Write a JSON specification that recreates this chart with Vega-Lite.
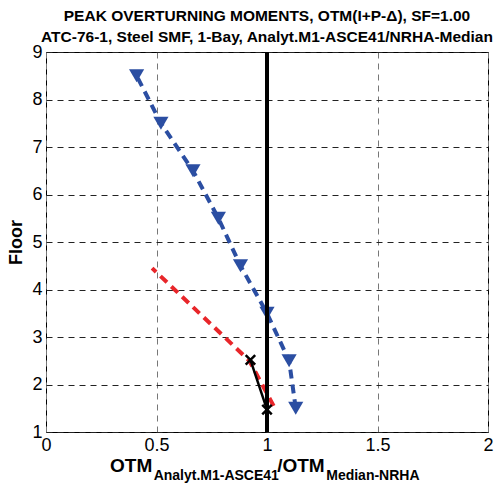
{
  "$schema": "https://vega.github.io/schema/vega-lite/v6.json",
  "width": 442,
  "height": 380,
  "autosize": {"type": "none"},
  "padding": {"left": 46, "top": 52, "right": 15, "bottom": 55},
  "background": "white",
  "title": {
    "text": ["PEAK OVERTURNING MOMENTS, OTM(I+P-Δ), SF=1.00", "ATC-76-1, Steel SMF, 1-Bay, Analyt.M1-ASCE41/NRHA-Median"],
    "font": "Liberation Sans",
    "fontSize": 15.5,
    "fontWeight": "bold",
    "color": "black",
    "anchor": "middle",
    "offset": -2,
    "lineHeight": 21
  },
  "config": {
    "view": {"stroke": "black", "strokeWidth": 1},
    "font": "Liberation Sans",
    "axis": {
      "labelFont": "Liberation Sans",
      "labelFontSize": 18,
      "labelColor": "black",
      "domain": false,
      "ticks": false,
      "grid": true,
      "gridDash": [6, 5],
      "gridWidth": 1,
      "gridOpacity": 1,
      "titleFont": "Liberation Sans",
      "titleColor": "black"
    }
  },
  "datasets": {
    "blue": [
      {"ratio": 0.41, "floor": 8.5},
      {"ratio": 0.52, "floor": 7.5},
      {"ratio": 0.665, "floor": 6.5},
      {"ratio": 0.78, "floor": 5.5},
      {"ratio": 0.88, "floor": 4.5},
      {"ratio": 1.0, "floor": 3.5},
      {"ratio": 1.1, "floor": 2.5},
      {"ratio": 1.13, "floor": 1.5}
    ],
    "red": [
      {"ratio": 0.48, "floor": 4.45},
      {"ratio": 0.92, "floor": 2.5},
      {"ratio": 1.03, "floor": 1.55}
    ],
    "black": [
      {"ratio": 0.925, "floor": 2.52},
      {"ratio": 1.0, "floor": 1.47}
    ],
    "xtitle": [
      {"part": "OTM", "kind": "main", "pos": 0.29},
      {"part": "Analyt.M1-ASCE41", "kind": "sub", "pos": 0.487},
      {"part": "/OTM", "kind": "main", "pos": 1.046},
      {"part": "Median-NRHA", "kind": "sub", "pos": 1.268}
    ]
  },
  "layer": [
    {
      "data": {"name": "blue"},
      "mark": {"type": "line", "color": "#2B4EA2", "strokeWidth": 4, "strokeDash": [9, 6], "strokeCap": "butt"},
      "encoding": {
        "x": {
          "field": "ratio", "type": "quantitative",
          "scale": {"domain": [0, 2], "nice": false, "zero": false},
          "axis": {"values": [0, 0.5, 1, 1.5, 2], "format": "~g", "title": null, "labelPadding": 4, "labelFlush": false, "gridColor": "#777"}
        },
        "y": {
          "field": "floor", "type": "quantitative",
          "scale": {"domain": [1, 9], "nice": false, "zero": false},
          "axis": {"values": [1, 2, 3, 4, 5, 6, 7, 8, 9], "title": "Floor", "titleFontSize": 18, "titleFontWeight": "bold", "titlePadding": 6, "labelPadding": 4, "labelFlush": false, "gridColor": "#222"}
        },
        "order": {"field": "floor"}
      }
    },
    {
      "data": {"name": "blue"},
      "mark": {"type": "point", "shape": "triangle-down", "filled": true, "color": "#2B4EA2", "size": 230, "opacity": 1},
      "encoding": {
        "x": {"field": "ratio", "type": "quantitative"},
        "y": {"field": "floor", "type": "quantitative"}
      }
    },
    {
      "data": {"name": "red"},
      "mark": {"type": "line", "color": "#E8262A", "strokeWidth": 4, "strokeDash": [9, 6], "strokeCap": "butt"},
      "encoding": {
        "x": {"field": "ratio", "type": "quantitative"},
        "y": {"field": "floor", "type": "quantitative"},
        "order": {"field": "floor"}
      }
    },
    {
      "data": {"name": "black"},
      "mark": {"type": "line", "color": "black", "strokeWidth": 2.5},
      "encoding": {
        "x": {"field": "ratio", "type": "quantitative"},
        "y": {"field": "floor", "type": "quantitative"},
        "order": {"field": "floor"}
      }
    },
    {
      "data": {"name": "black"},
      "mark": {"type": "point", "shape": "M-1,-1L1,1M-1,1L1,-1", "filled": false, "color": "black", "strokeWidth": 2.5, "size": 90, "opacity": 1},
      "encoding": {
        "x": {"field": "ratio", "type": "quantitative"},
        "y": {"field": "floor", "type": "quantitative"}
      }
    },
    {
      "data": {"values": [{}]},
      "mark": {"type": "rule", "color": "black", "strokeWidth": 4},
      "encoding": {"x": {"datum": 1}}
    },
    {
      "data": {"name": "xtitle"},
      "transform": [{"filter": "datum.kind === 'main'"}],
      "mark": {"type": "text", "font": "Liberation Sans", "fontWeight": "bold", "fontSize": 19, "align": "left", "baseline": "alphabetic", "color": "black"},
      "encoding": {"x": {"field": "pos", "type": "quantitative"}, "y": {"datum": 0.16}, "text": {"field": "part"}}
    },
    {
      "data": {"name": "xtitle"},
      "transform": [{"filter": "datum.kind === 'sub'"}],
      "mark": {"type": "text", "font": "Liberation Sans", "fontWeight": "bold", "fontSize": 14, "align": "left", "baseline": "alphabetic", "color": "black"},
      "encoding": {"x": {"field": "pos", "type": "quantitative"}, "y": {"datum": -0.01}, "text": {"field": "part"}}
    }
  ]
}
